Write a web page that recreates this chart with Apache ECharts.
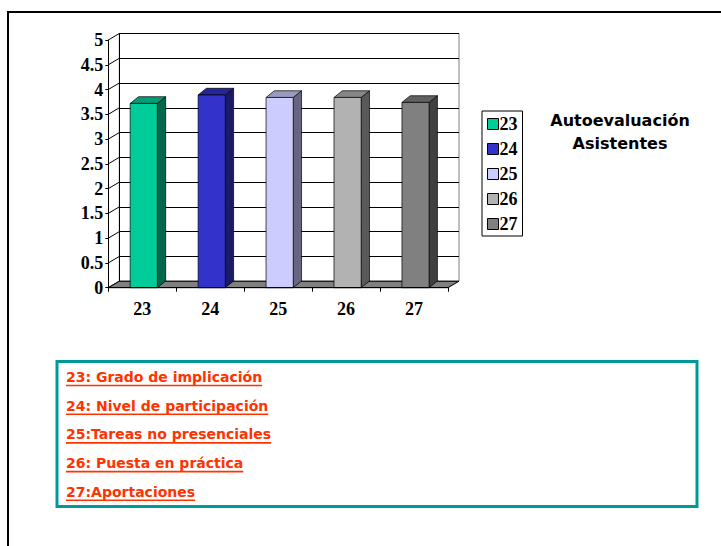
<!DOCTYPE html>
<html><head><meta charset="utf-8">
<script src="https://cdn.jsdelivr.net/npm/echarts@6/dist/echarts.min.js"></script>
<style>html,body{margin:0;padding:0;background:#fff}#c{width:721px;height:546px}</style>
</head><body><div id="c"></div>
<script>
// ---- data ----
const categories = ['23', '24', '25', '26', '27'];
const values = [3.72, 3.89, 3.84, 3.84, 3.74];
const yTicks = [0, 0.5, 1, 1.5, 2, 2.5, 3, 3.5, 4, 4.5, 5];
const titleLines = ['Autoevaluación', 'Asistentes'];
const noteLines = ['23: Grado de implicación', '24: Nivel de participación', '25:Tareas no presenciales', '26: Puesta en práctica', '27:Aportaciones'];

// ---- styles ----
const palette = [
  {front: '#00CC99', top: '#009E76', side: '#00664C'},
  {front: '#3333CC', top: '#26269A', side: '#1A1A66'},
  {front: '#CCCCFF', top: '#9A9ABF', side: '#666680'},
  {front: '#B2B2B2', top: '#868686', side: '#595959'},
  {front: '#808080', top: '#606060', side: '#404040'}
];
const DX = 11, DY = -6.5;      // wall depth
const BDX = 8.3, BDY = -6.7;   // bar depth
const serif = 'Liberation Serif';
const sans = 'DejaVu Sans';

const chart = echarts.init(document.getElementById('c'), null, {renderer: 'svg'});

function barRender(idx) {
  const c = palette[idx];
  return function (params, api) {
    const t = api.coord([api.value(0), api.value(1)]);
    const b = api.coord([api.value(0), 0]);
    const w = api.size([1, 0])[0] * 0.4;
    const x0 = t[0] - w / 2 + 1.5, x1 = x0 + w;
    const yt = t[1], yb = b[1];
    const st = {stroke: '#000', lineWidth: 0.7};
    return {
      type: 'group',
      children: [
        {type: 'polygon', shape: {points: [[x1, yb], [x1 + BDX, yb + BDY], [x1 + BDX, yt + BDY], [x1, yt]]}, style: Object.assign({fill: c.side}, st)},
        {type: 'polygon', shape: {points: [[x0, yt], [x1, yt], [x1 + BDX, yt + BDY], [x0 + BDX, yt + BDY]]}, style: Object.assign({fill: c.top}, st)},
        {type: 'rect', shape: {x: x0, y: yt, width: w, height: yb - yt}, style: Object.assign({fill: c.front}, st)}
      ]
    };
  };
}

const barSeries = categories.map((cat, i) => ({
  type: 'custom',
  name: cat,
  xAxisIndex: 0, yAxisIndex: 0,
  z: 5,
  itemStyle: {color: palette[i].front, borderColor: '#000', borderWidth: 1},
  renderItem: barRender(i),
  data: [[cat, values[i]]]
}));

// measure text widths for underlines
const mctx = document.createElement('canvas').getContext('2d');
const noteFont = 'bold 14px "DejaVu Sans"';
mctx.font = noteFont;

const graphics = [];
graphics.push({type: 'polyline', silent: true, shape: {points: [[8, 546], [8, 12], [721, 12]]}, style: {stroke: '#000', lineWidth: 2, fill: null}});
titleLines.forEach((t, i) => {
  graphics.push({type: 'text', x: 620, y: 120 + i * 23, style: {text: t, align: 'center', verticalAlign: 'middle', font: 'bold 16px "DejaVu Sans"', fill: '#000'}});
});
graphics.push({type: 'rect', shape: {x: 57, y: 361.5, width: 640, height: 145}, style: {fill: null, stroke: '#009999', lineWidth: 3}});
noteLines.forEach((t, i) => {
  const yc = 377 + i * 28.7;
  const w = mctx.measureText(t).width;
  graphics.push({type: 'text', x: 66, y: yc, style: {text: t, align: 'left', verticalAlign: 'middle', font: noteFont, fill: '#FF3300'}});
  graphics.push({type: 'line', shape: {x1: 66, y1: yc + 8.5, x2: 66 + w, y2: yc + 8.5}, style: {stroke: '#FF3300', lineWidth: 1.6}});
});

const option = {
  animation: false,
  backgroundColor: '#fff',
  grid: [
    {left: 108.3, top: 40, width: 339.7, height: 247.7, containLabel: false},
    {left: 108.3 + DX, top: 40 + DY, width: 339.7, height: 247.7, show: true, borderColor: '#808080', borderWidth: 1, backgroundColor: '#fff', z: 0}
  ],
  xAxis: [
    {type: 'category', gridIndex: 0, data: categories, boundaryGap: true,
      axisLine: {show: true, lineStyle: {color: '#000', width: 1}},
      axisTick: {show: true, length: 4, lineStyle: {color: '#000'}},
      axisLabel: {margin: 12, color: '#000', fontFamily: serif, fontWeight: 'bold', fontSize: 18},
      z: 6},
    {type: 'category', gridIndex: 1, data: categories, show: false}
  ],
  yAxis: [
    {type: 'value', gridIndex: 0, min: 0, max: 5, interval: 0.5,
      axisLine: {show: true, lineStyle: {color: '#000', width: 1}},
      axisTick: {show: true, length: 3, lineStyle: {color: '#000'}},
      splitLine: {show: false},
      axisLabel: {margin: 5, color: '#000', fontFamily: serif, fontWeight: 'bold', fontSize: 18},
      z: 6},
    {type: 'value', gridIndex: 1, min: 0, max: 5, interval: 0.5,
      axisLine: {show: true, lineStyle: {color: '#000', width: 1}},
      axisTick: {show: false}, axisLabel: {show: false},
      splitLine: {show: true, lineStyle: {color: '#000', width: 1}}}
  ],
  legend: {
    data: categories,
    orient: 'vertical', left: 482, top: 111,
    itemWidth: 11, itemHeight: 11, itemGap: 7,
    padding: [4, 5, 3, 5],
    borderColor: '#000', borderWidth: 1,
    icon: 'rect',
    selectedMode: false,
    itemStyle: {borderColor: '#000', borderWidth: 1},
    textStyle: {fontFamily: serif, fontWeight: 'bold', fontSize: 18, color: '#000', padding: [0, 0, 0, -4]}
  },
  graphic: graphics,
  series: [
    {type: 'custom', name: 'wall', xAxisIndex: 0, yAxisIndex: 0, z: 3, silent: true,
      renderItem: function (params, api) {
        const y = api.coord([api.value(0), api.value(1)])[1];
        const x = params.coordSys.x;
        return {type: 'line', shape: {x1: x, y1: y, x2: x + DX, y2: y + DY}, style: {stroke: '#000', lineWidth: 1}};
      },
      data: yTicks.map(v => [categories[0], v])},
    {type: 'custom', name: 'floor', xAxisIndex: 0, yAxisIndex: 0, z: 4, silent: true,
      renderItem: function (params, api) {
        const cs = params.coordSys;
        const yb = api.coord([api.value(0), 0])[1];
        return {type: 'polygon', shape: {points: [[cs.x, yb], [cs.x + cs.width, yb], [cs.x + cs.width + DX, yb + DY], [cs.x + DX, yb + DY]]}, style: {fill: '#808080', stroke: '#000', lineWidth: 1}};
      },
      data: [[categories[0], 0]]}
  ].concat(barSeries)
};
chart.setOption(option);
</script>
</body></html>
